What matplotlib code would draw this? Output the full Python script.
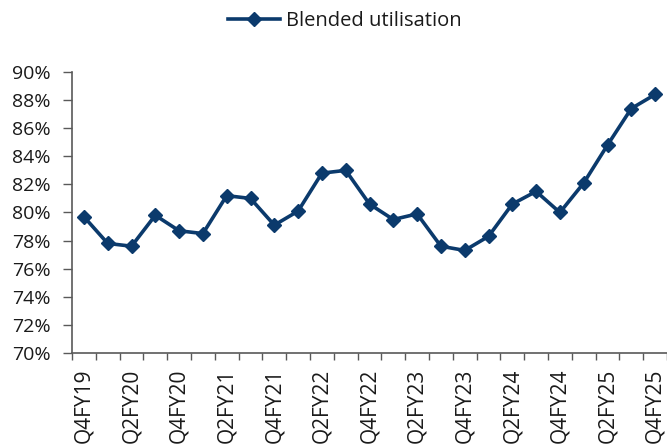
import matplotlib
matplotlib.use("Agg")
import matplotlib.pyplot as plt
from matplotlib.ticker import FixedLocator, PercentFormatter

quarters = [
    "Q4FY19", "Q1FY20", "Q2FY20", "Q3FY20", "Q4FY20", "Q1FY21", "Q2FY21",
    "Q3FY21", "Q4FY21", "Q1FY22", "Q2FY22", "Q3FY22", "Q4FY22", "Q1FY23",
    "Q2FY23", "Q3FY23", "Q4FY23", "Q1FY24", "Q2FY24", "Q3FY24", "Q4FY24",
    "Q1FY25", "Q2FY25", "Q3FY25", "Q4FY25",
]
utilisation = [
    79.7, 77.8, 77.6, 79.8, 78.7, 78.5, 81.2, 81.0, 79.1, 80.1, 82.8, 83.0,
    80.6, 79.5, 79.9, 77.6, 77.3, 78.3, 80.6, 81.5, 80.0, 82.1, 84.8, 87.4, 88.4,
]
y_ticks = list(range(70, 91, 2))

navy = "#0b3a6c"
axis_grey = "#595959"
plt.rcParams["font.family"] = ["Open Sans", "DejaVu Sans"]

fig = plt.figure(figsize=(6.67, 4.46), dpi=100)
ax = fig.add_axes([72 / 667, 1 - 353 / 446, (667 - 72) / 667, (353 - 72) / 446])

x = list(range(len(quarters)))
ax.plot(x, utilisation, color=navy, lw=2.6, marker="D", ms=7.5,
        markeredgecolor=navy, label="Blended utilisation")

ax.set_xlim(-0.5, len(quarters) - 0.5)
ax.set_ylim(70, 90)
ax.set_yticks(y_ticks)
ax.yaxis.set_major_formatter(PercentFormatter(decimals=0))
ax.tick_params(axis="y", length=6.5, width=1, color=axis_grey, labelsize=14,
               labelcolor="#1a1a1a", pad=9)

ax.set_xticks(x[::2])
ax.set_xticklabels(quarters[::2], rotation=90, va="top", ha="center")
ax.xaxis.set_minor_locator(FixedLocator([i - 0.5 for i in range(len(quarters) + 1)]))
ax.tick_params(axis="x", which="major", length=0, labelsize=15,
               labelcolor="#1a1a1a", pad=11)
ax.tick_params(axis="x", which="minor", length=5, width=1, color=axis_grey)

for side in ("top", "right"):
    ax.spines[side].set_visible(False)
for side in ("left", "bottom"):
    ax.spines[side].set_color(axis_grey)
    ax.spines[side].set_linewidth(1.2)

fig.legend(loc="center", bbox_to_anchor=(345 / 667, 1 - 21 / 446), frameon=False,
           fontsize=14.5, handlelength=2.6, handletextpad=0.3, labelcolor="#1a1a1a")

fig.savefig("out.png", dpi=100)
